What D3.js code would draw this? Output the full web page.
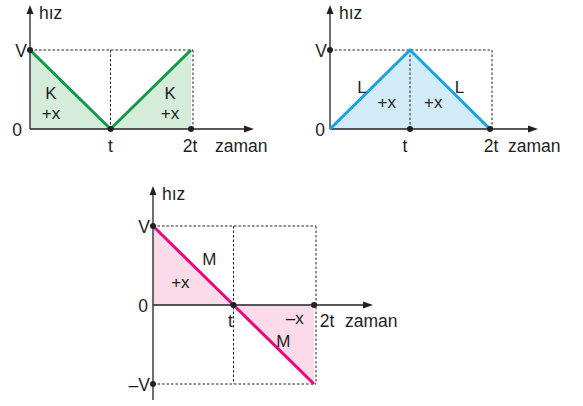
<!DOCTYPE html>
<html><head><meta charset="utf-8">
<script src="https://cdn.jsdelivr.net/npm/d3@7"></script>
<style>html,body{margin:0;padding:0;background:#fff;}svg{display:block;}text{font-family:"Liberation Sans",Arial,sans-serif;fill:#231f20;}</style>
</head><body><svg id="c" width="583" height="406"></svg>
<script>
// time points (in units of t) and their tick labels
const timePoints = [0, 1, 2];
const timeLabels = ["", "t", "2t"];
// velocity values (in units of V) for each car
const kValues = [1, 0, 1];
const lValues = [0, 1, 0];
const mValues = [1, 0, -1];
const yAxisTitle = "hız";
const xAxisTitle = "zaman";

const svg = d3.select("#c");
const ink = "#231f20";

function panel(cfg) {
  const x = d3.scaleLinear().domain([0, 2]).range(cfg.xr);
  const y = d3.scaleLinear().domain(cfg.yd).range(cfg.yr);
  const g = svg.append("g");
  const data = timePoints.map((t, i) => ({t, v: cfg.values[i]}));

  // fill
  g.append("path").datum(data)
    .attr("d", d3.area().x(d => x(d.t)).y0(y(0)).y1(d => y(d.v)))
    .attr("fill", cfg.fill);

  // dashed guides
  const dash = (x1, y1, x2, y2) => g.append("line").attr("x1", x1).attr("y1", y1).attr("x2", x2).attr("y2", y2)
    .attr("stroke", ink).attr("stroke-width", 1).attr("stroke-dasharray", "2.5,2");
  const vmin = d3.min(cfg.yd);
  dash(x(0), y(1), x(2) + 2, y(1));
  if (vmin < 0) dash(x(0), y(-1), x(2) + 2, y(-1));
  dash(x(1), y(1), x(1), y(vmin < 0 ? -1 : 0));
  dash(x(2) + 2, y(1), x(2) + 2, y(vmin < 0 ? -1 : 0));

  // axes
  g.append("line").attr("x1", x(0)).attr("y1", cfg.yAxisBottom).attr("x2", x(0)).attr("y2", cfg.yAxisTop + 6)
    .attr("stroke", ink).attr("stroke-width", 1.3);
  g.append("line").attr("x1", x(0)).attr("y1", y(0)).attr("x2", cfg.xAxisEnd - 6).attr("y2", y(0))
    .attr("stroke", ink).attr("stroke-width", 1.3);
  g.append("path").attr("d", `M${x(0)},${cfg.yAxisTop} L${x(0)-3.5},${cfg.yAxisTop+9} L${x(0)+3.5},${cfg.yAxisTop+9} Z`).attr("fill", ink);
  g.append("path").attr("d", `M${cfg.xAxisEnd},${y(0)} L${cfg.xAxisEnd-10},${y(0)-3.5} L${cfg.xAxisEnd-10},${y(0)+3.5} Z`).attr("fill", ink);

  // line
  g.append("path").datum(data)
    .attr("d", d3.line().x(d => x(d.t)).y(d => y(d.v)))
    .attr("fill", "none").attr("stroke", cfg.stroke).attr("stroke-width", 3);

  // dots
  cfg.dots.forEach(([t, v]) => g.append("circle").attr("cx", x(t)).attr("cy", y(v)).attr("r", 3).attr("fill", ink));

  const txt = (s, px, py, anchor, fs) => g.append("text").attr("x", px).attr("y", py)
    .attr("text-anchor", anchor || "middle").attr("dominant-baseline", "central")
    .attr("font-size", fs || 17.5).text(s);

  // axis labels
  txt(yAxisTitle, x(0) + 9, cfg.yAxisTop + 8, "start");
  txt(xAxisTitle, cfg.zamanX, y(0) + cfg.tickDy, "start");
  txt("V", x(0) - 3, y(1) + 1, "end");
  if (vmin < 0) txt("\u2013V", x(0) - 3, y(-1) + 1, "end");
  txt("0", cfg.zeroX, y(0) + 1);
  timePoints.forEach((t, i) => { if (timeLabels[i]) txt(timeLabels[i], x(t) + cfg.tickDx[i], y(0) + cfg.tickDy); });
  cfg.notes.forEach(n => txt(n[0], x(n[1]), y(n[2]), "middle", 17));
}

panel({
  values: kValues, xr: [30, 191], yd: [0, 1], yr: [129, 50],
  yAxisTop: 5, yAxisBottom: 129, xAxisEnd: 254,
  fill: "#d5ecda", stroke: "#0f9a48",
  dots: [[0, 1], [1, 0], [2, 0]],
  zeroX: 17, zamanX: 215, tickDy: 17, tickDx: [0, 0, -1],
  notes: [["K", 0.26, 0.445], ["+x", 0.26, 0.19], ["K", 1.74, 0.445], ["+x", 1.74, 0.19]]
});

panel({
  values: lValues, xr: [330, 490], yd: [0, 1], yr: [129, 50],
  yAxisTop: 5, yAxisBottom: 129, xAxisEnd: 538,
  fill: "#d2ebf8", stroke: "#16a3df",
  dots: [[0, 1], [1, 0], [2, 0]],
  zeroX: 320, zamanX: 508, tickDy: 17, tickDx: [0, -5, 1],
  notes: [["L", 0.4, 0.53], ["+x", 0.71, 0.33], ["L", 1.62, 0.53], ["+x", 1.29, 0.33]]
});

panel({
  values: mValues, xr: [153, 314], yd: [-1, 1], yr: [384, 226],
  yAxisTop: 186, yAxisBottom: 400, xAxisEnd: 373,
  fill: "#fbdbe9", stroke: "#e5087e",
  dots: [[0, 1], [1, 0], [2, 0], [0, -1]],
  zeroX: 143, zamanX: 345, tickDy: 16, tickDx: [0, -3, 13],
  notes: [["M", 0.7, 0.57], ["+x", 0.34, 0.28], ["\u2013x", 1.76, -0.17], ["M", 1.62, -0.46]]
});
</script></body></html>
